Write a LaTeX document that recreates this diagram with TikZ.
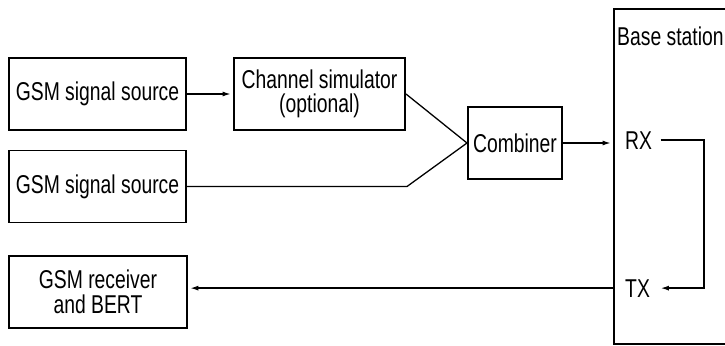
\documentclass[tikz,border=0pt]{standalone}
\usepackage{fontspec}
\setmainfont[FakeStretch=0.75]{Liberation Sans}
\usepackage{tikz}
\usetikzlibrary{arrows.meta}

\begin{document}
\begin{tikzpicture}[
  font=\fontsize{22}{21}\selectfont,
  box/.style={
    draw, line width=1.7pt,
    minimum height=2.16cm,
    align=center, inner sep=0pt
  },
  wire/.style={line width=1.1pt},
  arrow/.style={wire,
    -{Latex[length=2.4mm,width=1.5mm]},
    shorten >=2pt},
  port/.style={
    anchor=base west,
    inner xsep=0.25cm}
]
\path[use as bounding box, clip] (0,0) rectangle (21.75,10.35);

\node[box, minimum width=5.31cm] (src1) at (2.925,7.53)
  {GSM signal source};
\node[box, minimum width=5.31cm] (src2) at (2.925,4.755)
  {GSM signal source};
\node[box, minimum width=5.13cm] (chan) at (9.585,7.53)
  {Channel simulator\\(optional)};
\node[box, minimum width=2.82cm] (comb) at (15.45,6.06)
  {Combiner};
\node[box, minimum width=5.34cm] (recv) at (2.94,1.59)
  {GSM receiver\\and BERT};

\node[draw, line width=1.5pt, inner sep=0pt,
  minimum width=5cm, minimum height=10.05cm,
  anchor=north west] (bs) at (18.39,10.11) {};
\node[anchor=base west, inner sep=0pt] (bslabel) at (18.51,9.0)
  {Base station};
\node[port] (rx) at (18.5,5.88) {RX};
\node[port] (tx) at (18.5,1.44) {TX};

\coordinate (kink) at (12.21,4.755);
\coordinate (loop) at (21.12,0);

\draw[arrow] (src1) -- (chan);
\draw[wire] (chan.east) -- (comb.west);
\draw[wire] (src2.east) -- (kink) -- (comb.west);
\draw[arrow] (comb) -- (comb -| bs.west);
\draw[arrow] (rx.east) -| (loop |- tx.east) -- (tx.east);
\draw[arrow] (tx.east -| bs.west) -- (recv.east |- tx.east);
\end{tikzpicture}
\end{document}
